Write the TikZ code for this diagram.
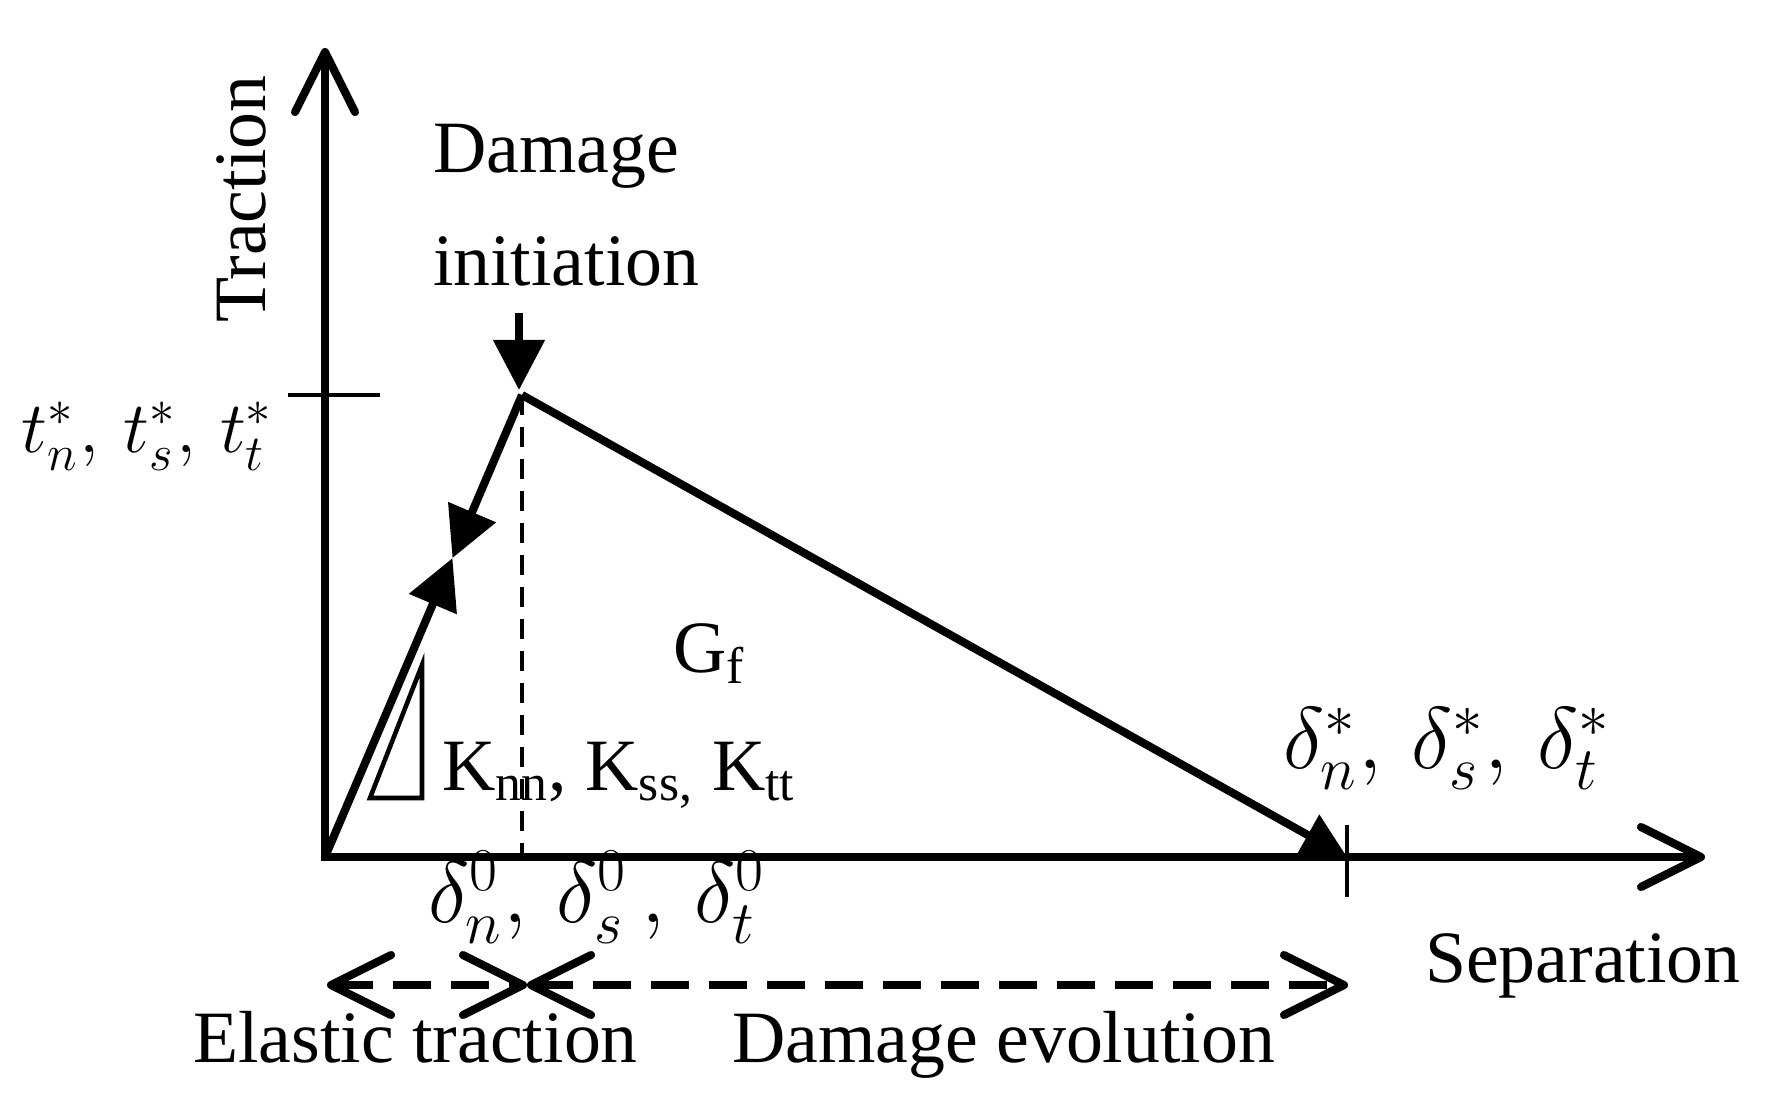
\documentclass[tikz,border=0pt]{standalone}
\usepackage{fontspec}
\setmainfont{Liberation Serif}
\usetikzlibrary{arrows.meta,calc}

\begin{document}
\begin{tikzpicture}[
	thick line/.style={line width=2.3pt},
	thin line/.style={line width=1.3pt},
	both barb/.style={{Straight Barb[length=6mm,width=6mm,round]}-{Straight Barb[length=6mm,width=6mm,round]}},
	solid tip/.style={-{Triangle[length=5mm,width=5mm]}},
	lbl/.style={inner sep=0,outer sep=0,font=\fontsize{21}{25}\selectfont,anchor=base west},
	mathlbl/.style={lbl,font=\fontsize{23}{27}\selectfont}
	]
	\useasboundingbox (0,0) rectangle (17.79,11.02);
	\coordinate (O) at (3.25,2.45);
	\coordinate (ytop) at (3.25,10.54);
	\coordinate (xend) at (17.05,2.45);
	\coordinate (peak) at (5.22,7.07);
	\coordinate (fail) at (13.47,2.45);
	\coordinate (cross) at ($(O)!0.647!(peak)$);
	\coordinate (initstart) at (5.19,7.89);
	\coordinate (b1) at (3.27,1.17);
	\coordinate (b2) at (5.27,1.17);
	\coordinate (b3) at (13.48,1.17);
	\draw[thick line,both barb] (ytop) -- (O) -- (xend);
	\draw[thin line] (2.88,7.07) -- (3.80,7.07);
	\draw[thin line] (13.47,2.77) -- (13.47,2.05);
	\draw[thin line,dash pattern=on 2mm off 1.2mm] (peak) -- (peak |- O);
	\draw[thin line] (3.70,3.04) -- (4.22,3.04) -- (4.22,4.37) -- cycle;
	\draw[thick line,solid tip] (O) -- (cross);
	\draw[thick line,solid tip] (peak) -- (cross);
	\draw[thick line,-{Triangle[length=4.5mm,width=4.5mm]}] (peak) -- (fail);
	\draw[thick line,solid tip] (initstart) -- ($(peak)+(-0.03,0.05)$);
	\draw[thick line,dash pattern=on 3.8mm off 2mm,both barb] (b1) -- (b2);
	\draw[thick line,dash pattern=on 3.8mm off 2mm,both barb] (b2) -- (b3);
	\node[lbl,rotate=90] (traction) at (2.65,7.79) {Traction};
	\node[lbl] (separation) at (14.25,1.20) {Separation};
	\node[lbl,align=left,font=\fontsize{21}{32}\selectfont] (initiation) at (4.33,8.17) {Damage\\initiation};
	\node[lbl] (gf) at (6.73,4.30) {G\textsubscript{f}};
	\node[lbl] (stiff) at (4.42,3.12) {K\textsubscript{nn}, K\textsubscript{ss,} K\textsubscript{tt}};
	\node[mathlbl] (dzero) at (4.28,1.80) {$\delta_n^0,\,\delta_s^0\,,\,\delta_t^0$};
	\node[mathlbl,font=\fontsize{22}{26}\selectfont] (tstar) at (0.22,6.50) {$t_n^*,\,t_s^*,\,t_t^*$};
	\node[mathlbl] (dstar) at (12.83,3.34) {$\delta_n^*,\,\delta_s^*,\,\delta_t^*$};
	\node[lbl] (elastic) at (1.93,0.40) {Elastic traction};
	\node[lbl] (evolution) at (7.32,0.40) {Damage evolution};
\end{tikzpicture}
\end{document}
